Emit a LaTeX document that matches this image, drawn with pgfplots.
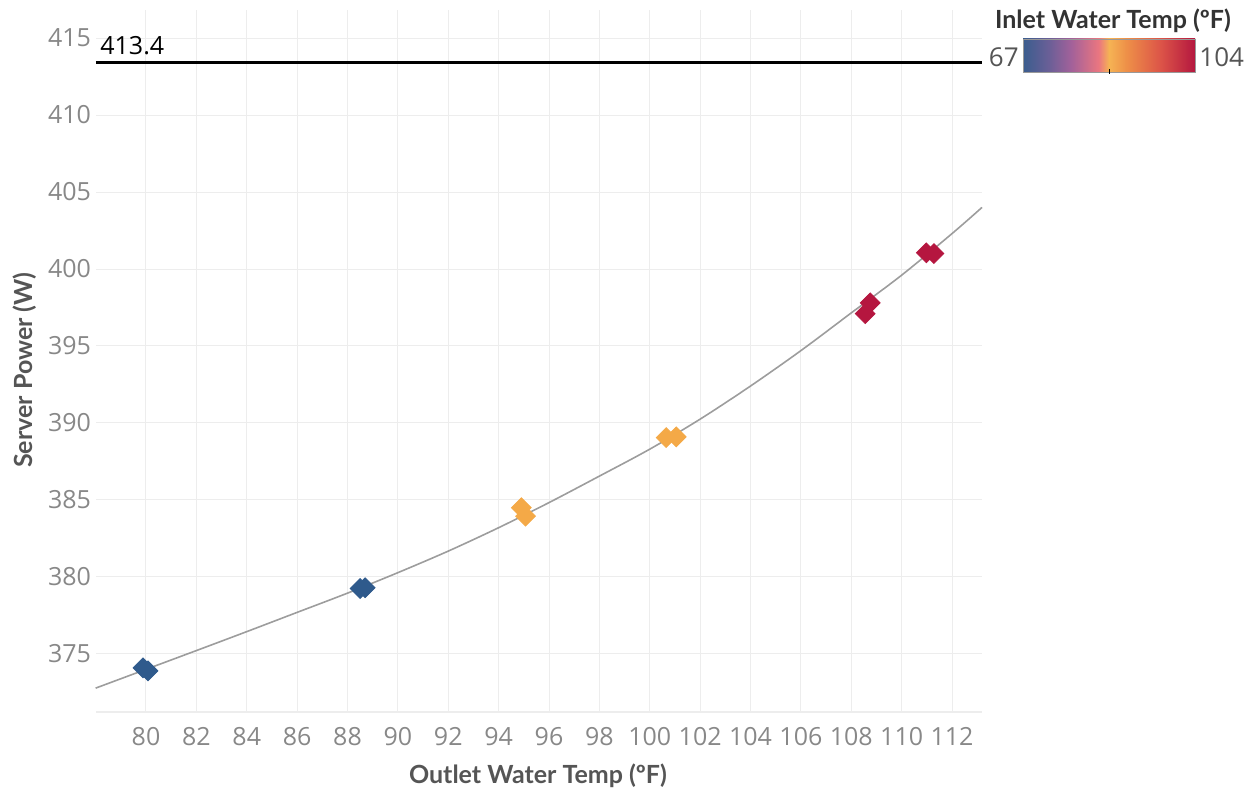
\documentclass[border=0pt]{standalone}
\usepackage{pgfplots}
\pgfplotsset{compat=1.18}
\usepackage{fontspec}
\setmainfont{Open Sans}
\newfontfamily\titlefont{Lato}
\definecolor{cblue}{HTML}{2F5A8C}
\definecolor{corange}{HTML}{F4A947}
\definecolor{cred}{HTML}{B5163F}
\definecolor{tickgray}{HTML}{888888}
\definecolor{titlegray}{HTML}{555555}
\definecolor{gridgray}{HTML}{EDEDED}
\definecolor{cb1}{HTML}{3A5D8E}
\definecolor{cb2}{HTML}{6A5F97}
\definecolor{cb3}{HTML}{A2619A}
\definecolor{cb4}{HTML}{EA7680}
\definecolor{cb5}{HTML}{F5B354}
\definecolor{cb6}{HTML}{EE9048}
\definecolor{cb7}{HTML}{DC5448}
\definecolor{cb8}{HTML}{B4173F}
\pgfdeclarehorizontalshading{inlet}{100bp}{color(0bp)=(cb1); color(25bp)=(cb1); color(32.5bp)=(cb2); color(39bp)=(cb3); color(47bp)=(cb4); color(50bp)=(cb5); color(55bp)=(cb6); color(65bp)=(cb7); color(75bp)=(cb8); color(100bp)=(cb8)}
\begin{document}
\begin{tikzpicture}
\useasboundingbox (0,0) rectangle (626.5pt,-396pt);
\begin{axis}[
  at={(48pt,-356pt)}, anchor=south west,
  scale only axis, width=443pt, height=351pt,
  xmin=78.015, xmax=113.19, ymin=371.23, ymax=416.82,
  xtick={80,82,...,112}, ytick={375,380,...,415},
  grid=major, major grid style={gridgray, line width=0.5pt},
  axis line style={draw=none}, major tick length=0pt,
  tick label style={font=\fontsize{12.5}{14}\selectfont, text=tickgray},
  xticklabel style={yshift=-4pt},
  yticklabel style={xshift=1pt},
  /pgf/number format/assume math mode=true,
  /pgf/number format/1000 sep={},
  clip=false,
]
\draw[gridgray, line width=0.6pt] (axis cs:78.015,371.23) -- (axis cs:113.19,371.23);
\draw[black, line width=1.2pt] (axis cs:78.015,413.4) -- (axis cs:113.19,413.4);
\node[anchor=south west, inner sep=0pt, font=\fontsize{12.5}{14}\selectfont] at ([xshift=2pt,yshift=3.5pt]axis cs:78.015,413.4) {413.4};
\addplot[only marks, mark=square*, mark size=3.5pt, mark options={rotate=45, fill=cblue, draw=cblue}] coordinates {
 (79.88,374.1) (80.08,373.9) (88.5,379.25) (88.7,379.3)};
\addplot[only marks, mark=square*, mark size=3.5pt, mark options={rotate=45, fill=corange, draw=corange}] coordinates {
 (94.9,384.5) (95.07,383.95) (100.65,389.05) (101.05,389.1)};
\addplot[only marks, mark=square*, mark size=3.5pt, mark options={rotate=45, fill=cred, draw=cred}] coordinates {
 (108.55,397.1) (108.75,397.8) (110.98,401.05) (111.28,401.0)};
\addplot[smooth, no marks, color=black!45, line width=0.8pt, opacity=0.85] coordinates {
 (78.0,372.78) (80,374.0) (82,375.22) (84,376.45) (86,377.7) (88,378.95) (90,380.28) (92,381.68) (94,383.2) (96,384.83) (98,386.55) (100,388.3) (102,390.25) (104,392.4) (106,394.7) (108,397.15) (110,399.6) (112,402.3) (113.19,404.0)};
\end{axis}
\node[rotate=90, font=\titlefont\bfseries\fontsize{12.5}{14}\selectfont, text=titlegray] at (12.5pt,-185pt) {Server Power (W)};
\node[font=\titlefont\bfseries\fontsize{12.5}{14}\selectfont, text=titlegray] at (269pt,-388pt) {Outlet Water Temp (ºF)};
\node[font=\titlefont\bfseries\fontsize{12.5}{14}\selectfont, text=black!80] at (556.5pt,-10.5pt) {Inlet Water Temp (ºF)};
\shade[shading=inlet] (511.5pt,-19.5pt) rectangle (597.5pt,-36pt);
\draw[black!40, line width=0.4pt] (511.5pt,-19.5pt) rectangle (597.5pt,-36pt);
\draw[black, line width=0.5pt] (554.5pt,-34.5pt) -- (554.5pt,-37pt);
\node[anchor=east, inner sep=0pt, font=\fontsize{13}{15}\selectfont, text=titlegray] at (509.5pt,-28.5pt) {67};
\node[anchor=west, inner sep=0pt, font=\fontsize{13}{15}\selectfont, text=titlegray] at (599.5pt,-28.5pt) {104};
\end{tikzpicture}
\end{document}
